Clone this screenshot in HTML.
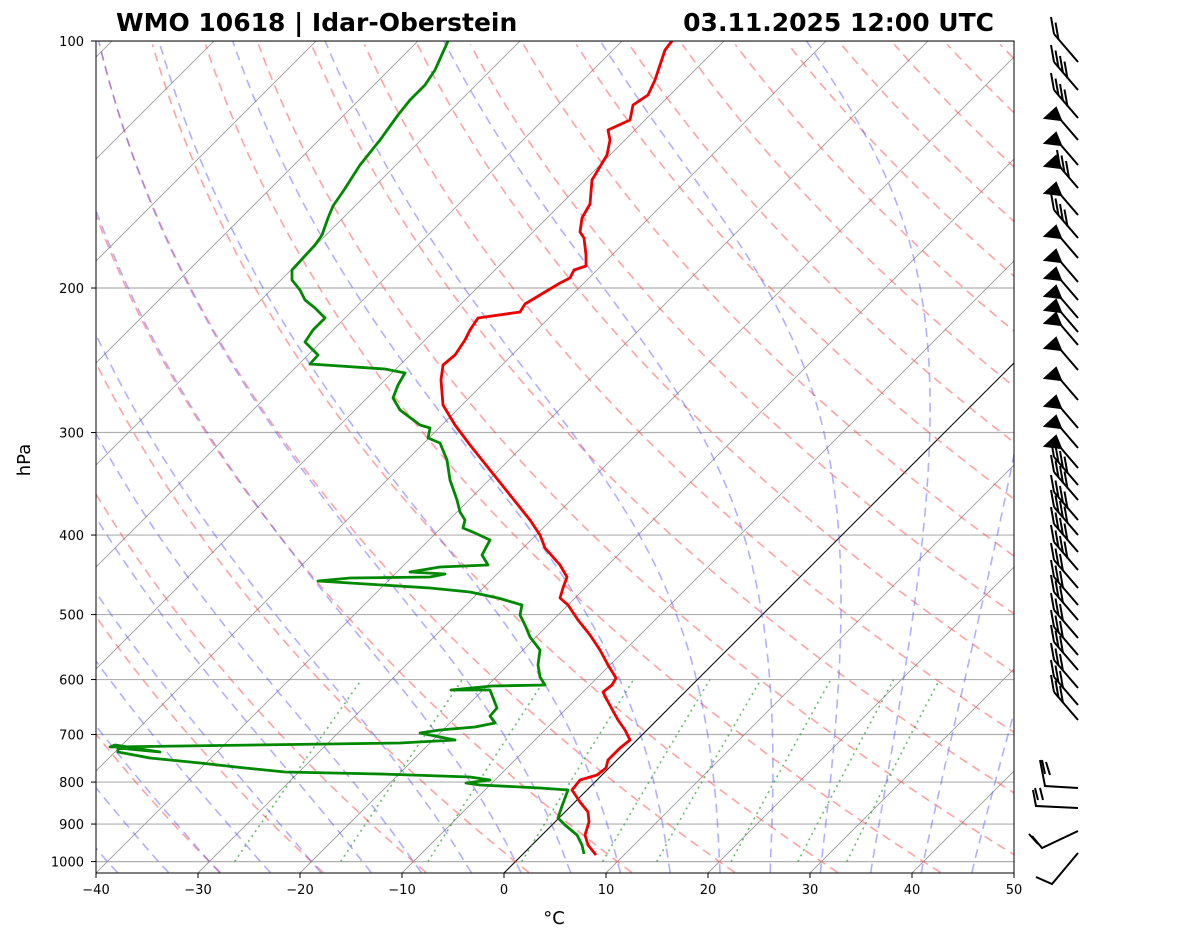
<!DOCTYPE html>
<html><head><meta charset="utf-8"><style>
body{margin:0;background:#fff;}
svg{display:block;font-family:"DejaVu Sans","Liberation Sans",sans-serif;}
</style></head><body>
<svg id="s" width="1181" height="941" xmlns="http://www.w3.org/2000/svg">
<defs><clipPath id="c"><rect x="96" y="41" width="918" height="832"/></clipPath></defs>
<rect width="1181" height="941" fill="#fff"/>
<g id="bg" clip-path="url(#c)"></g>
<g id="prof" clip-path="url(#c)" fill="none" stroke-width="2.8" stroke-linejoin="round">
<polyline stroke="#e00" points="596,855 588,845 585,835 589,822 588,812 580,802 572,790 580,780 597,775 606,768 608,760 620,748 630,740 625,730 618,720 607,700 603,692 612,685 616,678 608,665 600,650 590,635 578,620 568,605 560,598 563,588 567,577 560,565 545,548 540,535 530,520 510,495 490,470 470,445 455,425 443,405 441,380 443,365 455,355 465,340 470,330 478,318 520,312 525,304 540,295 560,283 570,278 574,270 586,266 586,255 584,238 580,232 582,218 590,204 592,180 598,170 607,155 610,140 608,130 630,120 633,105 648,95 655,80 660,65 665,50 672,41"/>
<polyline stroke="#080" points="584,854 582,845 577,835 565,825 558,818 562,806 568,790 540,788 480,785 466,783 490,780 470,777 380,774 285,772 245,768 200,763 150,758 118,752 118,748 160,752 115,745 110,747 400,743 455,740 430,735 420,733 440,730 475,727 495,723 490,716 497,708 490,690 475,690 451,690 492,686 545,685 540,677 538,665 540,650 530,637 525,625 520,615 522,605 498,598 470,592 430,588 318,581 350,578 430,577 445,574 410,572 440,567 488,565 482,555 490,540 475,533 463,528 465,520 460,512 457,500 450,480 447,460 440,443 428,438 430,428 420,425 400,410 393,398 398,385 405,373 385,369 310,364 318,355 310,347 305,342 313,330 325,318 315,308 305,300 300,290 292,280 292,270 303,258 315,245 322,235 328,218 333,206 344,190 360,165 380,140 398,115 410,100 425,85 435,70 448,41"/>
</g>
<rect x="96" y="41" width="918" height="832" fill="none" stroke="#000" stroke-width="1"/>
<g id="ax" font-size="13" fill="#000"></g>
<g id="barbs" stroke="#000" stroke-width="2" fill="#000"></g>
<text x="116" y="31" font-size="25" font-weight="bold">WMO 10618 | Idar-Oberstein</text>
<text x="994" y="31" font-size="25" font-weight="bold" text-anchor="end">03.11.2025 12:00 UTC</text>
<text x="30" y="460" font-size="18" text-anchor="middle" transform="rotate(-90 30 460)">hPa</text>
<text x="554" y="924" font-size="18" text-anchor="middle">°C</text>
</svg>
<script>
const NS="http://www.w3.org/2000/svg";
function Y(p){return 41+820.6*Math.log10(p/100);}
function X(T,p){return 504+10.2*T+(873-Y(p));}
function el(parent,tag,attrs,txt){const e=document.createElementNS(NS,tag);for(const k in attrs)e.setAttribute(k,attrs[k]);if(txt!==undefined)e.textContent=txt;document.getElementById(parent).appendChild(e);return e;}
function line(pts,st,dash,w){el('bg','polyline',{points:pts.map(q=>q[0].toFixed(1)+','+q[1].toFixed(1)).join(' '),fill:'none',stroke:st,'stroke-width':w||1.6,'stroke-dasharray':dash||''});}
for(const p of [100,200,300,400,500,600,700,800,900,1000]) el('bg','line',{x1:96,x2:1014,y1:Y(p),y2:Y(p),stroke:'#b0b0b0','stroke-width':1.2});
for(let T=-140;T<=50;T+=10){const x0=504+10.2*T;el('bg','line',{x1:x0,y1:873,x2:x0+900,y2:-27,stroke:T==0?'#000':'#999','stroke-width':T==0?1:0.9});}
const ps=[];for(let p=1031;p>=99;p-=5)ps.push(p);
for(let t=-30;t<=200;t+=10){const th=t+273.15;line(ps.map(p=>[X(th*Math.pow(p/1000,0.2857)-273.15,p),Y(p)]),'rgba(255,70,70,0.5)','9,6');}
function es(T){return 6.112*Math.exp(17.67*T/(T+243.5));}
for(let t0=-40;t0<=45;t0+=5){let T=t0+273.15,p=1000,pts=[];
 let Td=T;for(let pp=1000;pp<=1031;pp+=1){const rs=0.622*es(Td-273.15)/(pp-es(Td-273.15));const d=(287*Td+2.5e6*rs)/(pp*(1005+2.5e6*2.5e6*rs*0.622/(287*Td*Td)));Td+=d;}
 pts.push([X(Td-273.15,1031),Y(1031)]);
 while(p>=100){pts.push([X(T-273.15,p),Y(p)]);for(let k=0;k<5;k++){const rs=0.622*es(T-273.15)/(p-es(T-273.15));const d=(287*T+2.5e6*rs)/(p*(1005+2.5e6*2.5e6*rs*0.622/(287*T*T)));T-=d;p-=1;}}
 line(pts,'rgba(80,80,255,0.45)','9,6');}
for(const w of [0.0004,0.001,0.002,0.004,0.007,0.01,0.016,0.024,0.032]){const pts=[];for(let p=1000;p>=600;p-=20){const e=p*w/(0.622+w);const l=Math.log(e/6.112);pts.push([X(243.5*l/(17.67-l),p),Y(p)]);}line(pts,'rgba(40,160,40,0.7)','2,4');}
for(const p of [100,200,300,400,500,600,700,800,900,1000]){el('ax','text',{x:84,y:Y(p)+5,'text-anchor':'end'},p);el('ax','line',{x1:91,x2:96,y1:Y(p),y2:Y(p),stroke:'#000'});}
for(let T=-40;T<=50;T+=10){const x=504+10.2*T;el('ax','text',{x:x,y:894,'text-anchor':'middle'},(T<0?'\u2212'+(-T):T));el('ax','line',{x1:x,x2:x,y1:873,y2:878,stroke:'#000'});}
const B=[[62,2,0],[90,4,0],[118,4,0],[140,0,1],[165,0,1],[188,3,1],[215,0,1],[238,4,0],[258,0,1],[282,0,1],[300,0,1],[318,0,1],[332,0,1],[345,0,1],[370,0,1],[400,0,1],[428,0,1],[448,0,1],[468,0,1],[485,4,0],[500,4,0],[520,4,0],[535,4,0],[552,4,0],[570,4,0],[588,3,0],[605,3,0],[620,3,0],[638,3,0],[655,3,0],[670,3,0],[688,3,0],[705,3,0],[720,3,0]];
B.forEach(([y,n,f])=>{const x1=1078,y1=y,x2=1054,y2=y-28;
 el('barbs','line',{x1:x1,y1:y1,x2:x2,y2:y2});
 if(f){el('barbs','polygon',{points:`${x2+2},${y2-4} ${x2-9},${y2+6} ${x2+7},${y2+8}`});}
 for(let k=0;k<n;k++){const bx=x2+(f?6:0)+k*4.5,by=y2+(f?7:0)+k*5.5;el('barbs','line',{x1:bx,y1:by,x2:bx-3,y2:by-17});}
});
el('barbs','polyline',{points:'1078,788 1045,786 1040,760',fill:'none'});
el('barbs','line',{x1:1045,y1:774,x2:1042,y2:760});el('barbs','line',{x1:1050,y1:775,x2:1046,y2:762});
el('barbs','polyline',{points:'1078,808 1036,806 1033,790',fill:'none'});
el('barbs','line',{x1:1038,y1:800,x2:1035,y2:788});el('barbs','line',{x1:1043,y1:800,x2:1040,y2:788});
el('barbs','polyline',{points:'1078,831 1042,848 1032,836',fill:'none'});
el('barbs','line',{x1:1038,y1:844,x2:1029,y2:834});
el('barbs','polyline',{points:'1078,853 1052,884 1036,877',fill:'none'});
</script>
</body></html>
